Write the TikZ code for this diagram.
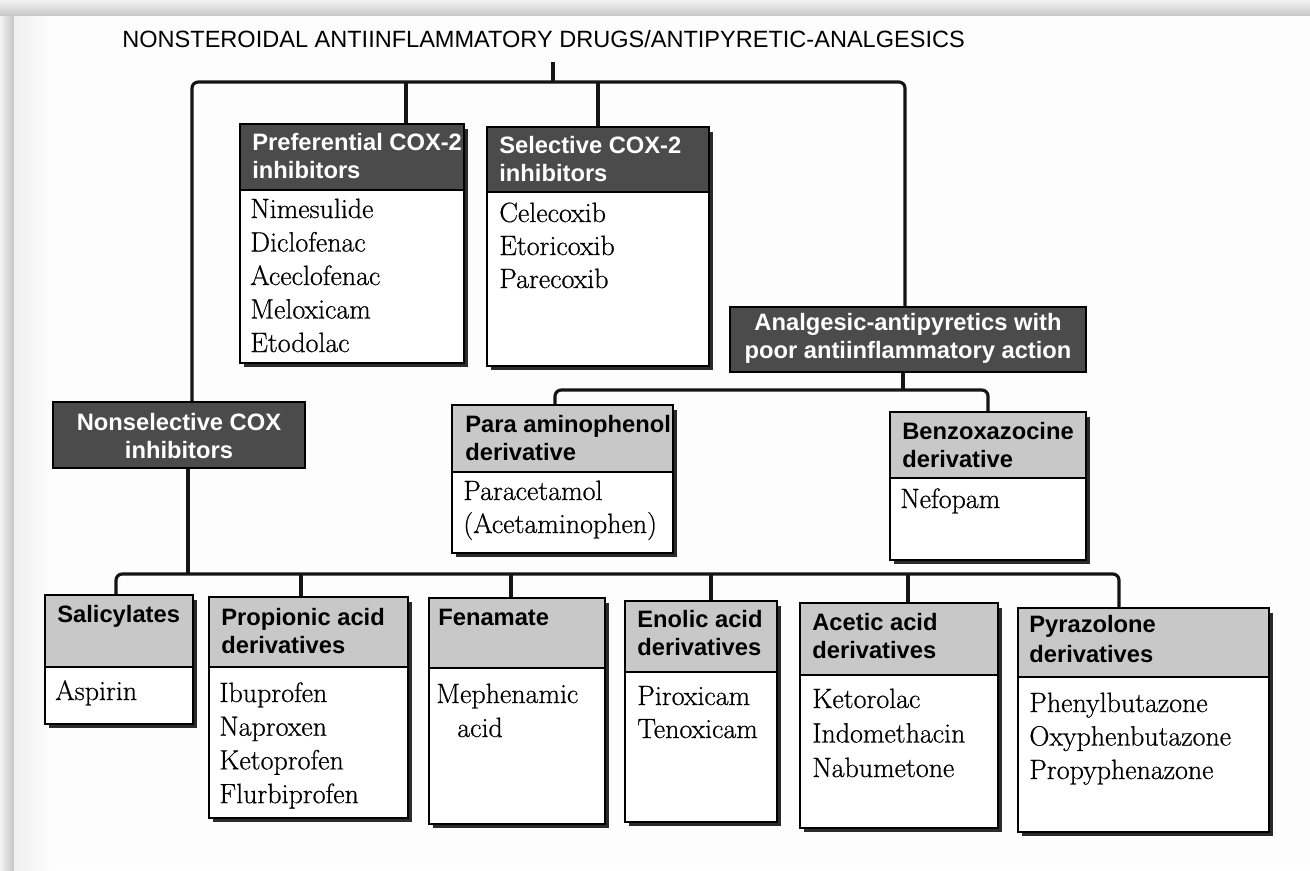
\documentclass[tikz,border=0pt]{standalone}
\usepackage{fontspec}
\newfontfamily\hsans{Liberation Sans}
\newfontfamily\bodyf{Latin Modern Roman}[FakeBold=0.6]
\usetikzlibrary{fit}
\definecolor{hdark}{HTML}{4B4B4B}
\definecolor{hlight}{HTML}{C8C8C8}
\definecolor{shad}{HTML}{2B2B2B}
\definecolor{pagebg}{HTML}{FDFDFD}
\definecolor{lnc}{HTML}{151515}
% [header style] name, x1, y1 (header top), x2, yh (header bottom), yb (body bottom)
\newcommand\catbox[7][hdr]{%
  \fill[shad] (#3+4,#4+5) rectangle (#5+4,#7+4);
  \node[bodyb, fit={(#3,#6) (#5,#7)}] (#2-b) {};
  \node[#1, fit={(#3,#4) (#5,#6)}] (#2-h) {};
}
\begin{document}
\begin{tikzpicture}[x=0.02cm,y=-0.02cm,
  conn/.style={draw=lnc, line width=1.8pt, line join=round},
  hdr/.style={draw=black, line width=0.9pt, fill=hlight, inner sep=0pt},
  bodyb/.style={draw=black, line width=0.9pt, fill=white, inner sep=0pt},
  dhdr/.style={draw=black, line width=1pt, fill=hdark, inner sep=0pt},
  htxt/.style={inner sep=0pt, anchor=base west, font=\hsans\bfseries\fontsize{13.5pt}{16pt}\selectfont},
  wtxtl/.style={htxt, text=white},
  wtxt/.style={htxt, anchor=base, text=white},
  btxt/.style={inner sep=0pt, anchor=base west, font=\bodyf\fontsize{15.9pt}{19pt}\selectfont},
  ttl/.style={inner sep=0pt, anchor=base west, font=\hsans\fontsize{13.4pt}{16pt}\selectfont}]
\useasboundingbox (0,0) rectangle (1310,870);
% page background and scan frame
\fill[pagebg] (0,0) rectangle (1310,870);
\shade[left color=gray!10, right color=gray!45] (0,0) rectangle (14,870);
\shade[left color=gray!12, right color=pagebg] (14,15) rectangle (52,870);
\shade[top color=gray!10, bottom color=gray!42] (0,0) rectangle (1310,15);

% title
\node[ttl] (title) at (122,47) {NONSTEROIDAL ANTIINFLAMMATORY DRUGS/ANTIPYRETIC-ANALGESICS};

% boxes
\catbox[dhdr]{pref}{240}{124}{464}{190}{363}
\catbox[dhdr]{sel}{487}{127}{709}{192}{366}
\catbox{para}{452}{405}{673}{472}{553}
\catbox{benz}{890}{412}{1086}{478}{560}
\catbox{sal}{45}{595}{193}{667}{724}
\catbox{prop}{209}{597}{408}{667}{818}
\catbox{fen}{429}{598}{605}{668}{824}
\catbox{enol}{625}{601}{777}{672}{822}
\catbox{acet}{800}{603}{998}{675}{828}
\catbox{pyr}{1018}{608}{1269}{677}{832}
\node[dhdr, fit={(53,402) (305,468)}] (nonsel) {};
\node[dhdr, fit={(730,307) (1086,372)}] (analg) {};

% connectors
\coordinate (tS) at (553,62);
\coordinate (tL) at (192,82);
\coordinate (tR) at (905,82);
\coordinate (tP) at (406,82);
\draw[conn, rounded corners=3.5pt] (nonsel.north -| tL) -- (tL) -- (tR) -- (analg.north -| tR);
\draw[conn] (tS) -- (tS |- tL);
\draw[conn] (tP) -- (tP |- pref-h.north);
\draw[conn] (sel-h.north |- tL) -- (sel-h.north);

\coordinate (mL) at (555,390);
\coordinate (mR) at (988,390);
\coordinate (mS) at (903,390);
\draw[conn, rounded corners=3.5pt] (para-h.north -| mL) -- (mL) -- (mR) -- (benz-h.north -| mR);
\draw[conn] (analg.south -| mS) -- (mS);

\coordinate (bL) at (116,574);
\coordinate (bR) at (1119,574);
\coordinate (bS) at (188,574);
\draw[conn, rounded corners=3.5pt] (sal-h.north -| bL) -- (bL) -- (bR) -- (pyr-h.north -| bR);
\draw[conn] (nonsel.south -| bS) -- (bS);
\coordinate (bprop) at (301,574);
\coordinate (bfen) at (511,574);
\coordinate (benol) at (711,574);
\coordinate (bacet) at (908,574);
\draw[conn] (bprop) -- (bprop |- prop-h.north);
\draw[conn] (bfen) -- (bfen |- fen-h.north);
\draw[conn] (benol) -- (benol |- enol-h.north);
\draw[conn] (bacet) -- (bacet |- acet-h.north);

% dark header texts
\node[wtxt] (nonsel-l1) at (179,430) {Nonselective COX};
\node[wtxt] (nonsel-l2) at (179,458) {inhibitors};
\node[wtxt] (analg-l1) at (908,330) {Analgesic-antipyretics with};
\node[wtxt] (analg-l2) at (908,358) {poor antiinflammatory action};

% preferential COX-2
\node[wtxtl] (pref-l1) at (252,150) {Preferential COX-2};
\node[wtxtl] (pref-l2) at (252,178) {inhibitors};
\foreach \t [count=\i] in {Nimesulide,Diclofenac,Aceclofenac,Meloxicam,Etodolac}
  \node[btxt] (pref-t\i) at (250,{218+(\i-1)*33.5}) {\t};
% selective COX-2
\node[wtxtl] (sel-l1) at (499,153) {Selective COX-2};
\node[wtxtl] (sel-l2) at (499,181) {inhibitors};
\foreach \t [count=\i] in {Celecoxib,Etoricoxib,Parecoxib}
  \node[btxt] (sel-t\i) at (499,{222+(\i-1)*33}) {\t};
% para aminophenol
\node[htxt] (para-l1) at (465,432) {Para aminophenol};
\node[htxt] (para-l2) at (465,460) {derivative};
\node[btxt] (para-t1) at (463,500) {Paracetamol};
\node[btxt] (para-t2) at (463,533) {(Acetaminophen)};
% benzoxazocine
\node[htxt] (benz-l1) at (902,439) {Benzoxazocine};
\node[htxt] (benz-l2) at (902,467) {derivative};
\node[btxt] (benz-t1) at (900,508) {Nefopam};
% salicylates
\node[htxt] (sal-l1) at (57,622) {Salicylates};
\node[btxt] (sal-t1) at (55,700) {Aspirin};
% propionic
\node[htxt] (prop-l1) at (221,625) {Propionic acid};
\node[htxt] (prop-l2) at (221,653) {derivatives};
\foreach \t [count=\i] in {Ibuprofen,Naproxen,Ketoprofen,Flurbiprofen}
  \node[btxt] (prop-t\i) at (219,{702+(\i-1)*33.7}) {\t};
% fenamate
\node[htxt] (fen-l1) at (438,625) {Fenamate};
\node[btxt] (fen-t1) at (436,703) {Mephenamic};
\node[btxt] (fen-t2) at (457,737) {acid};
% enolic
\node[htxt] (enol-l1) at (637,627) {Enolic acid};
\node[htxt] (enol-l2) at (637,655) {derivatives};
\node[btxt] (enol-t1) at (637,705) {Piroxicam};
\node[btxt] (enol-t2) at (637,738) {Tenoxicam};
% acetic
\node[htxt] (acet-l1) at (812,630) {Acetic acid};
\node[htxt] (acet-l2) at (812,658) {derivatives};
\foreach \t [count=\i] in {Ketorolac,Indomethacin,Nabumetone}
  \node[btxt] (acet-t\i) at (812,{708+(\i-1)*34.5}) {\t};
% pyrazolone
\node[htxt] (pyr-l1) at (1029,632) {Pyrazolone};
\node[htxt] (pyr-l2) at (1029,662) {derivatives};
\foreach \t [count=\i] in {Phenylbutazone,Oxyphenbutazone,Propyphenazone}
  \node[btxt] (pyr-t\i) at (1029,{712+(\i-1)*33.5}) {\t};
\end{tikzpicture}
\end{document}
